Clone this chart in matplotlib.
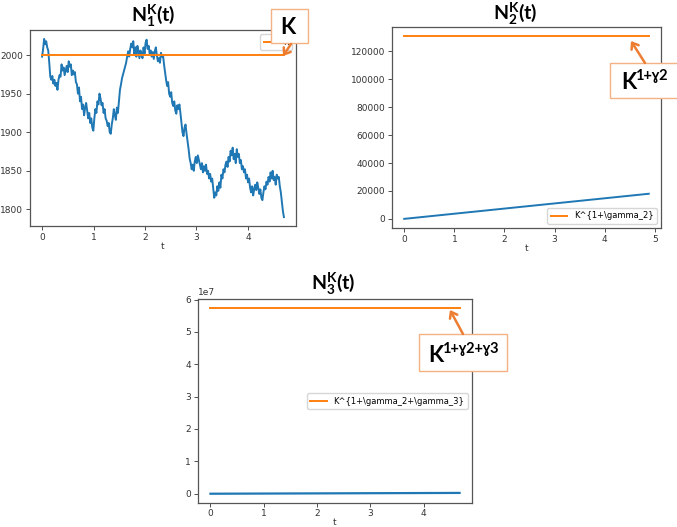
import numpy as np
import matplotlib.pyplot as plt
from matplotlib.patches import Rectangle, FancyArrowPatch

plt.rcParams["mathtext.fontset"] = "custom"
plt.rcParams["mathtext.rm"] = "Lato"
plt.rcParams["mathtext.bf"] = "Lato:bold"
plt.rcParams["font.family"] = ["DejaVu Sans"]

W, H = 677, 527

n1_vals = [
    1998, 2008, 2021, 2014, 2018, 2010, 2006, 1990, 1972, 1968, 1973, 1963, 1968, 1960, 1964, 1955,
    1968, 1974, 1972, 1988, 1980, 1984, 1974, 1980, 1986, 1978,
    1992, 1985, 1988, 1974, 1980, 1975, 1978, 1965, 1962, 1950, 1958, 1940, 1946, 1930, 1936, 1922,
    1932, 1938, 1928, 1918, 1925, 1912, 1918, 1906, 1902, 1918, 1930, 1925, 1940, 1936, 1950, 1944,
    1935, 1938, 1925, 1930, 1918, 1915, 1908, 1912, 1900, 1898, 1910, 1918, 1930, 1922, 1916, 1932,
    1925, 1940, 1955, 1962, 1970, 1975, 1980, 1985, 1990, 1998, 2005, 1998, 2008, 2015, 2010, 2018,
    2000, 2010, 1998, 2012, 2005, 1996, 2006, 2000, 1996, 2010, 2002, 2016, 2020, 2008, 2012, 2002,
    2006, 1998, 2004, 1995, 2005, 2010, 2000, 1992, 1996, 1990, 2003, 1998, 2000, 1988, 1978, 1968,
    1960, 1965, 1950, 1946, 1952, 1938, 1934, 1940, 1928, 1924, 1935, 1930, 1936, 1925, 1912, 1900,
    1895, 1906, 1910, 1898, 1888, 1878, 1866, 1860, 1852, 1858, 1850, 1862, 1868, 1860, 1870, 1864,
    1858, 1852, 1860, 1848, 1856, 1850, 1858, 1846, 1850, 1840, 1846, 1836, 1840, 1828, 1815, 1822,
    1818, 1830, 1824, 1835, 1828, 1845, 1840, 1852, 1848, 1858, 1862, 1855, 1868, 1862, 1876, 1870,
    1880, 1865, 1872, 1860, 1878, 1868, 1872, 1860, 1864, 1852, 1856, 1848, 1852, 1840, 1845, 1835,
    1840, 1828, 1822, 1830, 1818, 1826, 1832, 1825, 1835, 1828, 1820, 1826, 1815, 1812, 1822, 1830,
    1826, 1836, 1832, 1842, 1836, 1848, 1840, 1850, 1838, 1842, 1832, 1845, 1840, 1842, 1830, 1822,
    1810, 1798, 1790,
]
t1_end = 4.70
K1 = 2000

# N^K_2(t)
t2 = [0, 4.88]
n2_vals = [0, 18000]
K2 = 131000

# N^K_3(t)
t3 = [0, 4.67]
n3_vals = [0, 250000]
K3 = 5.73e7

blue = "#1f77b4"
orange = "#ff7f0e"
box_edge = "#f4b183"
arrow_c = "#ed7d31"


def px(x, y):
    return x / W, 1 - y / H


def axes_px(fig, l, t, r, b):
    return fig.add_axes([l / W, 1 - b / H, (r - l) / W, (b - t) / H])


def style(ax):
    ax.tick_params(labelsize=6.5, length=3, width=0.6, pad=2, colors="#333333")
    for s in ax.spines.values():
        s.set_color("#555555")
        s.set_linewidth(0.9)
    ax.set_xlabel("t", fontsize=6.5, labelpad=0, color="#333333")


fig = plt.figure(figsize=(W / 100, H / 100), dpi=100)

ax1 = axes_px(fig, 30, 30, 296, 226)
t1 = np.linspace(0, t1_end, len(n1_vals))
ax1.plot(t1, n1_vals, color=blue, lw=1.4)
ax1.plot([0, t1_end], [K1, K1], color=orange, lw=1.4, label="K")
ax1.set_yticks([1800, 1850, 1900, 1950, 2000])
ax1.legend(loc="upper right", fontsize=6, handlelength=1.5)
style(ax1)

ax2 = axes_px(fig, 392, 27, 661, 228)
ax2.plot(t2, n2_vals, color=blue, lw=1.4)
ax2.plot(t2, [K2, K2], color=orange, lw=1.4, label="K^{1+\\gamma_2}")
ax2.legend(loc="lower right", fontsize=6, handlelength=2)
style(ax2)

ax3 = axes_px(fig, 198, 299, 472, 503)
ax3.plot(t3, n3_vals, color=blue, lw=1.6)
ax3.plot(t3, [K3, K3], color=orange, lw=1.4, label="K^{1+\\gamma_2+\\gamma_3}")
ax3.legend(loc="center right", fontsize=6, handlelength=2)
style(ax3)
ax3.tick_params(axis="x", pad=1.5)
ax3.yaxis.get_offset_text().set_fontsize(6.5)

# titles
for x, y, s in [(153, 16, r"$\mathbf{N^{K}_{1}(t)}$"),
                (515, 14, r"$\mathbf{N^{K}_{2}(t)}$"),
                (333, 284, r"$\mathbf{N^{K}_{3}(t)}$")]:
    fig.text(*px(x, y), s, fontsize=14, ha="center", va="center")

# callout boxes with arrows
callouts = [
    # box l, t, r, b, K x, baseline y, superscript, arrow tail, arrow head
    ((271, 9, 308, 43), (280, 34), "", (291, 44), (283, 56)),
    ((610, 63, 680, 98), (621, 89), "1+ɣ2", (645, 63), (631, 41)),
    ((419, 334, 507, 371), (428, 362), "1+ɣ2+ɣ3", (463, 334), (450, 310)),
]
for (l, t, r, b), (kx, ky), sup, tail, head in callouts:
    fig.add_artist(Rectangle(px(l, b), (r - l) / W, (b - t) / H, transform=fig.transFigure,
                             facecolor="white", edgecolor=box_edge, lw=1.0, zorder=5))
    fig.text(*px(kx, ky), "K", fontsize=16, fontweight="bold", family=["Lato", "DejaVu Sans"],
             ha="left", va="baseline", zorder=6)
    if sup:
        fig.text(*px(kx + 14, ky - 9), sup, fontsize=10.5, fontweight="bold",
                 family=["Lato", "DejaVu Sans"], ha="left", va="baseline", zorder=6)
    fig.add_artist(FancyArrowPatch(px(*tail), px(*head), transform=fig.transFigure,
                                   arrowstyle="->,head_length=4,head_width=3", color=arrow_c,
                                   lw=1.8, zorder=6, shrinkA=0, shrinkB=0))

fig.savefig("out.png", dpi=100)
